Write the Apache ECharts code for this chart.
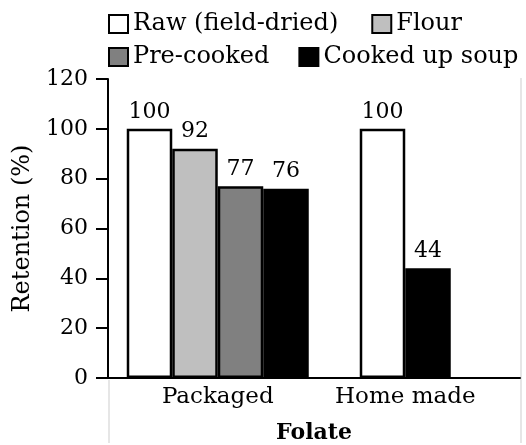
<!DOCTYPE html>
<html>
<head>
<meta charset="utf-8">
<script src="https://cdn.jsdelivr.net/npm/echarts@6/dist/echarts.min.js"></script>
<style>html,body{margin:0;padding:0;background:#fff;}#c{width:526px;height:445px;}</style>
</head>
<body>
<div id="c"></div>
<script>
var categories = ['Packaged', 'Home made'];
var seriesNames = ['Raw (field-dried)', 'Flour', 'Pre-cooked', 'Cooked up soup'];
var rawValues = [100, 100];
var flourValues = [92, null];
var precookedValues = [77, null];
var cookedValues = [76, 44];
var yTicks = [0, 20, 40, 60, 80, 100, 120];
var colors = ['#ffffff', '#bfbfbf', '#808080', '#000000'];

var FONT = 'DejaVu Serif';
var values = [rawValues, flourValues, precookedValues, cookedValues];
var nSlots = seriesNames.length;

// assign bars of each category to centered slots (no gaps for missing series)
var assign = {};
categories.forEach(function (c, ci) {
  var present = [];
  values.forEach(function (v, si) { if (v[ci] !== null && v[ci] !== undefined) present.push(si); });
  var start = Math.floor((nSlots - present.length) / 2);
  present.forEach(function (si, k) {
    var s = start + k;
    (assign[s] = assign[s] || []).push({ si: si, ci: ci });
  });
});

var series = [];
for (var s = 0; s < nSlots; s++) {
  var list = assign[s] || [];
  var bySeries = {};
  list.forEach(function (a) { (bySeries[a.si] = bySeries[a.si] || []).push(a.ci); });
  Object.keys(bySeries).forEach(function (key) {
    var si = +key;
    var data = categories.map(function (c, ci) {
      return bySeries[si].indexOf(ci) >= 0 ? values[si][ci] : '-';
    });
    series.push({
      type: 'bar',
      name: seriesNames[si],
      stack: 'slot' + s,
      xAxisIndex: 0,
      yAxisIndex: 0,
      barWidth: 45.5,
      barGap: '0%',
      data: data,
      itemStyle: { color: colors[si], borderColor: '#000', borderWidth: 2.5 },
      label: {
        show: true, position: 'top', distance: 6,
        fontFamily: FONT, fontSize: 22, color: '#000'
      },
      emphasis: { disabled: true }
    });
  });
}

var legendCommon = {
  left: 108, orient: 'horizontal', padding: 0,
  icon: 'rect', itemWidth: 19, itemHeight: 18,
  textStyle: { fontFamily: FONT, fontSize: 24, color: '#000' },
  itemStyle: { borderColor: '#000', borderWidth: 2 },
  selectedMode: false
};

var option = {
  animation: false,
  backgroundColor: '#fff',
  legend: [
    Object.assign({}, legendCommon, { top: 12, itemGap: 33, data: [seriesNames[0], seriesNames[1]] }),
    Object.assign({}, legendCommon, { top: 45, itemGap: 29, data: [seriesNames[2], seriesNames[3]] })
  ],
  grid: [
    { left: 124, right: 27, top: 79, bottom: 67, containLabel: false, outerBoundsMode: 'none' },
    { left: 108, right: 6, top: 79, bottom: 67, containLabel: false, outerBoundsMode: 'none' }
  ],
  xAxis: [
    {
      type: 'category', gridIndex: 0, data: categories,
      axisLine: { show: false }, axisTick: { show: false },
      axisLabel: { fontFamily: FONT, fontSize: 23, color: '#000', margin: 8 }
    },
    {
      type: 'category', gridIndex: 1, data: categories,
      axisLine: { show: true, lineStyle: { color: '#000', width: 2 } },
      axisTick: { show: false }, axisLabel: { show: false },
      name: 'Folate', nameLocation: 'middle', nameGap: 44,
      nameTextStyle: { fontFamily: FONT, fontSize: 22, fontWeight: 'bold', color: '#000' }
    }
  ],
  yAxis: [
    {
      type: 'value', gridIndex: 0, min: 0, max: 120, interval: 20, show: false,
      splitLine: { show: false }
    },
    {
      type: 'value', gridIndex: 1, min: yTicks[0], max: yTicks[yTicks.length - 1], interval: 20,
      axisLine: { show: true, lineStyle: { color: '#000', width: 2 } },
      axisTick: { show: true, length: 12, lineStyle: { color: '#000', width: 2 } },
      axisLabel: { fontFamily: FONT, fontSize: 22, color: '#000', margin: 20 },
      splitLine: { show: false },
      name: 'Retention (%)', nameLocation: 'middle', nameGap: 65, nameRotate: 90,
      nameTextStyle: { fontFamily: FONT, fontSize: 24, color: '#000' }
    }
  ],
  graphic: [
    { type: 'line', shape: { x1: 109, y1: 380, x2: 109, y2: 443 }, style: { stroke: '#e6e6e6', lineWidth: 2 }, z: -1 },
    { type: 'line', shape: { x1: 521, y1: 78, x2: 521, y2: 443 }, style: { stroke: '#e6e6e6', lineWidth: 2 }, z: -1 }
  ],
  series: series
};

var chart = echarts.init(document.getElementById('c'), null, { renderer: 'canvas' });
chart.setOption(option);
</script>
</body>
</html>
